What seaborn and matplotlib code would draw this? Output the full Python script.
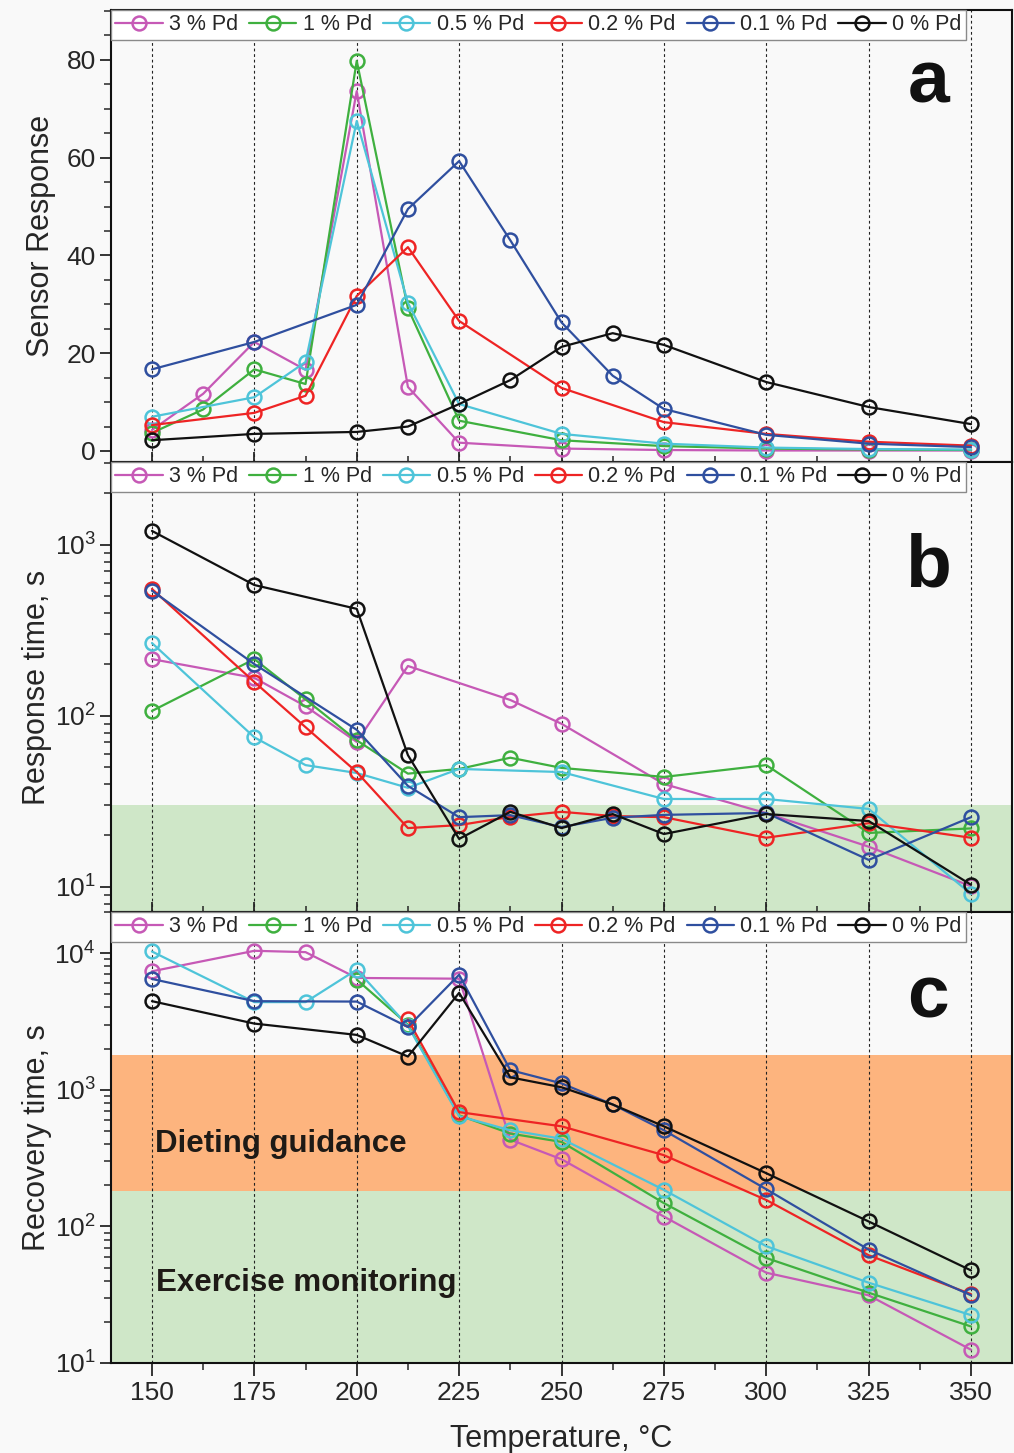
import numpy as np
import pandas as pd
import matplotlib
matplotlib.use("Agg")
import matplotlib.pyplot as plt
import seaborn as sns
from matplotlib.ticker import MultipleLocator, LogLocator, NullFormatter, FixedLocator

# ---------------- data ----------------
series_names = ["3 % Pd", "1 % Pd", "0.5 % Pd", "0.2 % Pd", "0.1 % Pd", "0 % Pd"]
series_colors = ["#C659B6", "#3FB03F", "#4EC4D9", "#EE2424", "#2F4F9F", "#111111"]

x_ticks = [150, 175, 200, 225, 250, 275, 300, 325, 350]

# (a) Sensor response
T_a_3 = [150, 162.5, 175, 187.5, 200, 212.5, 225, 250, 275, 300, 325, 350]
S_3 = [4.3, 11.7, 22.3, 16.6, 73.6, 13.1, 1.7, 0.5, 0.2, 0.1, 0.1, 0.1]
T_a_1 = [150, 162.5, 175, 187.5, 200, 212.5, 225, 250, 275, 300, 325, 350]
S_1 = [3.7, 8.5, 16.7, 13.7, 79.8, 29.2, 6.2, 2.2, 1.0, 0.5, 0.3, 0.2]
T_a_05 = [150, 175, 187.5, 200, 212.5, 225, 250, 275, 300, 325, 350]
S_05 = [7.0, 11.0, 18.2, 67.5, 30.3, 9.6, 3.5, 1.5, 0.7, 0.4, 0.3]
T_a_02 = [150, 175, 187.5, 200, 212.5, 225, 250, 275, 300, 325, 350]
S_02 = [5.3, 7.8, 11.3, 31.7, 41.7, 26.6, 12.9, 5.9, 3.5, 1.9, 1.1]
T_a_01 = [150, 175, 200, 212.5, 225, 237.5, 250, 262.5, 275, 300, 325, 350]
S_01 = [16.7, 22.3, 29.9, 49.5, 59.3, 43.1, 26.3, 15.4, 8.6, 3.3, 1.5, 0.8]
T_a_0 = [150, 175, 200, 212.5, 225, 237.5, 250, 262.5, 275, 300, 325, 350]
S_0 = [2.2, 3.5, 3.9, 5.0, 9.6, 14.5, 21.3, 24.1, 21.7, 14.1, 9.0, 5.5]

# (b) Response time, s
T_b_3 = [150, 175, 187.5, 200, 212.5, 237.5, 250, 275, 300, 325, 350]
R_3 = [215, 167, 114, 70.5, 196, 124, 90, 40, 27, 17.2, 10.1]
T_b_1 = [150, 175, 187.5, 200, 212.5, 225, 237.5, 250, 275, 300, 325, 350]
R_1 = [107, 215, 125, 72, 46, 49, 57, 49.7, 44, 51.6, 20.7, 22]
T_b_05 = [150, 175, 187.5, 200, 212.5, 225, 250, 275, 300, 325, 350]
R_05 = [267, 75, 51.6, 46.4, 38, 49, 47, 32.7, 32.7, 28.6, 9.1]
T_b_02 = [150, 175, 187.5, 200, 212.5, 225, 237.5, 250, 262.5, 275, 300, 325, 350]
R_02 = [553, 158, 86, 47, 22.1, 23, 25.7, 27.5, 26, 25.6, 19.4, 23.6, 19.4]
T_b_01 = [150, 175, 200, 212.5, 225, 237.5, 250, 262.5, 275, 300, 325, 350]
R_01 = [540, 201, 83, 39, 25.6, 26.3, 22.4, 25.4, 26.4, 27.1, 14.4, 25.6]
T_b_0 = [150, 175, 200, 212.5, 225, 237.5, 250, 262.5, 275, 300, 325, 350]
R_0 = [1208, 583, 423, 59, 19.1, 27.5, 22.1, 26.7, 20.4, 26.7, 24.3, 10.3]

# (c) Recovery time, s
T_c_3 = [150, 175, 187.5, 200, 225, 237.5, 250, 275, 300, 325, 350]
C_3 = [7360, 10400, 10170, 6580, 6500, 431, 310, 118, 45.8, 31.3, 12.5]
T_c_1 = [200, 212.5, 225, 237.5, 250, 275, 300, 325, 350]
C_1 = [6400, 3000, 650, 478, 415, 148, 58.7, 32.7, 18.5]
T_c_05 = [150, 175, 187.5, 200, 212.5, 225, 237.5, 250, 275, 300, 325, 350]
C_05 = [10280, 4380, 4380, 7570, 2930, 641, 505, 438, 185, 71.6, 38.7, 22.4]
T_c_02 = [212.5, 225, 250, 275, 300, 325, 350]
C_02 = [3270, 686, 540, 332, 156, 61.5, 31.9]
T_c_01 = [150, 175, 200, 212.5, 225, 237.5, 250, 262.5, 275, 300, 325, 350]
C_01 = [6470, 4450, 4420, 2880, 6950, 1393, 1114, 780, 505, 187, 67.6, 31.3]
T_c_0 = [150, 175, 200, 212.5, 225, 237.5, 250, 262.5, 275, 300, 325, 350]
C_0 = [4450, 3050, 2520, 1750, 5120, 1233, 1043, 780, 540, 245, 108.6, 47.6]

band_response_max = 30
band_exercise_max = 180
band_dieting_max = 1800

panel_a = [(T_a_3, S_3), (T_a_1, S_1), (T_a_05, S_05), (T_a_02, S_02), (T_a_01, S_01), (T_a_0, S_0)]
panel_b = [(T_b_3, R_3), (T_b_1, R_1), (T_b_05, R_05), (T_b_02, R_02), (T_b_01, R_01), (T_b_0, R_0)]
panel_c = [(T_c_3, C_3), (T_c_1, C_1), (T_c_05, C_05), (T_c_02, C_02), (T_c_01, C_01), (T_c_0, C_0)]

# ---------------- style ----------------
sns.set_style("ticks")
plt.rcParams["font.family"] = ["Liberation Sans", "DejaVu Sans"]
plt.rcParams["mathtext.fontset"] = "custom"
plt.rcParams["mathtext.rm"] = "Liberation Sans"
plt.rcParams["mathtext.it"] = "Liberation Sans:italic"
plt.rcParams["mathtext.bf"] = "Liberation Sans:bold"

BG = "#f9f9f9"
GREEN_BAND = "#CFE7C8"
ORANGE_BAND = "#FDB47E"

W, H = 1014, 1453
fig = plt.figure(figsize=(W / 100, H / 100), dpi=100, facecolor=BG)

def frac_box(top_px, bot_px, left_px=111, right_px=1012):
    return [left_px / W, 1 - bot_px / H, (right_px - left_px) / W, (bot_px - top_px) / H]

ax_a = fig.add_axes(frac_box(10, 462))
ax_b = fig.add_axes(frac_box(462, 912), sharex=ax_a)
ax_c = fig.add_axes(frac_box(912, 1363), sharex=ax_a)

def draw_panel(ax, data):
    for (tx, vals), name, col in zip(data, series_names, series_colors):
        df = pd.DataFrame({"T": tx, "v": vals})
        sns.lineplot(data=df, x="T", y="v", ax=ax, color=col, label=name,
                     marker="o", markersize=10, markerfacecolor="none",
                     markeredgecolor=col, markeredgewidth=1.8, linewidth=1.6,
                     estimator=None, sort=False, zorder=3)

for ax, data in [(ax_a, panel_a), (ax_b, panel_b), (ax_c, panel_c)]:
    ax.set_facecolor(BG)
    draw_panel(ax, data)
    ax.set_xlim(140, 360)
    for xv in x_ticks:
        ax.axvline(xv, color="#222222", lw=0.8, ls=(0, (2.5, 2.5)), zorder=1)
    for sp in ax.spines.values():
        sp.set_linewidth(1.5)
        sp.set_color("#111111")
    ax.tick_params(axis="y", which="major", direction="out", length=8, width=1.3,
                   labelsize=19, pad=3)
    ax.tick_params(axis="y", which="minor", direction="out", length=5, width=1.1)
    ax.set_xlabel("")
    leg = ax.legend(loc="upper left", bbox_to_anchor=(0.0, 1.0), ncol=6, fontsize=15.5,
                    frameon=True, fancybox=False, framealpha=1, edgecolor="#8a8a8a",
                    facecolor="white", handlelength=2.2, handletextpad=0.3,
                    columnspacing=0.5, borderpad=0.2, borderaxespad=0.0)
    leg.get_frame().set_linewidth(1.0)
    leg.set_zorder(10)

ax_a.xaxis.set_major_locator(FixedLocator(x_ticks))
ax_a.xaxis.set_minor_locator(MultipleLocator(12.5))

# panel a
ax_a.set_ylim(-2.25, 90.2)
ax_a.yaxis.set_major_locator(MultipleLocator(20))
ax_a.yaxis.set_minor_locator(MultipleLocator(5))
ax_a.set_ylabel("Sensor Response", fontsize=22)
ax_a.yaxis.set_label_coords(-0.061, 0.5)

# panel b
ax_b.set_yscale("log")
ax_b.set_ylim(7.14, 3055)
ax_b.axhspan(1, band_response_max, color=GREEN_BAND, zorder=0.5, lw=0)
ax_b.set_ylabel("Response time, s", fontsize=22)
ax_b.yaxis.set_label_coords(-0.066, 0.5)

# panel c
ax_c.set_yscale("log")
ax_c.set_ylim(10, 20000)
ax_c.axhspan(1, band_exercise_max, color=GREEN_BAND, zorder=0.5, lw=0)
ax_c.axhspan(band_exercise_max, band_dieting_max, color=ORANGE_BAND, zorder=0.5, lw=0)
ax_c.set_ylabel("Recovery time, s", fontsize=22)
ax_c.yaxis.set_label_coords(-0.066, 0.5)
ax_c.text(0.049, 0.468, "Dieting guidance", transform=ax_c.transAxes, fontsize=22.5,
          fontweight="bold", color="#1e1a16", ha="left", va="baseline", zorder=4)
ax_c.text(0.05, 0.16, "Exercise monitoring", transform=ax_c.transAxes, fontsize=22.5,
          fontweight="bold", color="#1e1a16", ha="left", va="baseline", zorder=4)

for ax in (ax_b, ax_c):
    ax.yaxis.set_major_locator(LogLocator(base=10, numticks=10))
    ax.yaxis.set_minor_locator(LogLocator(base=10, subs=np.arange(2, 10), numticks=20))
    ax.yaxis.set_minor_formatter(NullFormatter())

for ax in (ax_a, ax_b):
    ax.tick_params(axis="x", which="both", direction="in", labelbottom=False)
    ax.tick_params(axis="x", which="major", length=7, width=1.3)
    ax.tick_params(axis="x", which="minor", length=4, width=1.1)

ax_c.tick_params(axis="x", which="major", direction="out", length=9, width=1.3,
                 labelsize=19, pad=4)
ax_c.tick_params(axis="x", which="minor", direction="out", length=5, width=1.1)
ax_c.set_xlabel("Temperature, \u00b0C", fontsize=22, labelpad=14)

for ax, letter, yb in [(ax_a, "a", 0.796), (ax_b, "b", 0.724), (ax_c, "c", 0.765)]:
    ax.text(0.907, yb, letter, transform=ax.transAxes, fontsize=54, fontweight="bold",
            ha="center", va="baseline", color="#111111", zorder=5)

fig.savefig("out.png", dpi=100, facecolor=BG)
